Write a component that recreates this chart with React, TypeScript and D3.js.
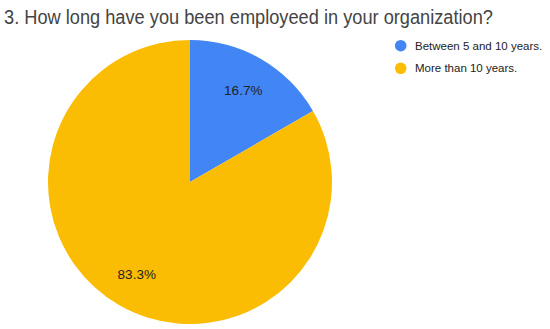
import React from "react";
import * as d3 from "d3";

const categories = ["Between 5 and 10 years.", "More than 10 years."];
const values = [1, 5];
const labels = ["16.7%", "83.3%"];
const colors = ["#4285F4", "#FBBC04"];
const title = "3. How long have you been employeed in your organization?";

export default function App() {
  const width = 550;
  const height = 329;
  const cx = 190;
  const cy = 182;
  const r = 142;
  const pie = d3.pie<number>().sort(null).value((d) => d)(values);
  const arc = d3.arc<d3.PieArcDatum<number>>().innerRadius(0).outerRadius(r);
  const labelArc = d3.arc<d3.PieArcDatum<number>>().innerRadius(r * 0.75).outerRadius(r * 0.75);
  return (
    <svg width={width} height={height} style={{ position: "absolute", left: 0, top: 0, fontFamily: "Arial, 'Liberation Sans', sans-serif" }}>
      <rect width={width} height={height} fill="#fff" />
      <text x={4} y={23.5} fontSize={20} fill="#444" textLength={489} lengthAdjust="spacingAndGlyphs">{title}</text>
      <g transform={`translate(${cx},${cy})`}>
        {pie.map((p, i) => (
          <path key={i} d={arc(p) || ""} fill={colors[i]} />
        ))}
        {pie.map((p, i) => {
          const [x, y] = labelArc.centroid(p);
          return (
            <text key={i} x={x} y={y} dy="0.35em" textAnchor="middle" fontSize={13.5} fill="#222">{labels[i]}</text>
          );
        })}
      </g>
      {categories.map((c, i) => (
        <g key={i} transform={`translate(400.7,${45.7 + i * 22.6})`}>
          <circle r={5.8} fill={colors[i]} />
          <text x={14.3} dy="0.35em" fontSize={11.5} fill="#222">{c}</text>
        </g>
      ))}
    </svg>
  );
}
